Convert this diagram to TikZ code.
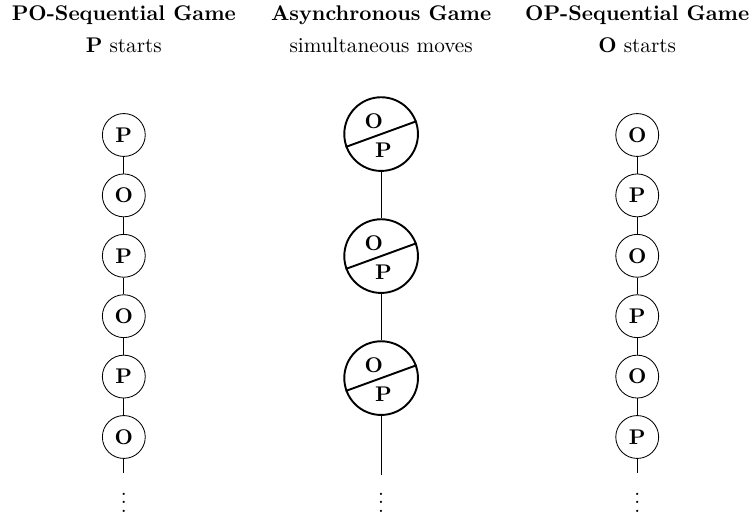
\documentclass[tikz,border=0pt]{standalone}
\begin{document}
\begin{tikzpicture}[
    move/.style={circle,draw,minimum size=0.71cm,inner sep=0pt,font=\bfseries},
    bigmove/.style={circle,draw,line width=0.9pt,minimum size=1.22cm,inner sep=0pt},
    title/.style={font=\bfseries}
  ]
  \useasboundingbox (0,0) rectangle (12.5,-8.63);
  % headings
  \node[title] (t1) at (2.05,-0.25) {PO-Sequential Game};
  \node (s1) at (2.05,-0.75) {\textbf{P} starts};
  \node[title] (t2) at (6.31,-0.25) {Asynchronous Game};
  \node (s2) at (6.31,-0.75) {simultaneous moves};
  \node[title] (t3) at (10.55,-0.25) {OP-Sequential Game};
  \node (s3) at (10.55,-0.75) {\textbf{O} starts};
  % PO-sequential
  \node[move] (a0) at (2.05,-2.235) {P};
  \node[move] (a1) at (2.05,-3.235) {O};
  \node[move] (a2) at (2.05,-4.235) {P};
  \node[move] (a3) at (2.05,-5.235) {O};
  \node[move] (a4) at (2.05,-6.235) {P};
  \node[move] (a5) at (2.05,-7.235) {O};
  \coordinate (ae) at (2.05,-7.83);
  \node (ad) at (2.05,-8.22) {$\vdots$};
  % OP-sequential
  \node[move] (c0) at (10.55,-2.235) {O};
  \node[move] (c1) at (10.55,-3.235) {P};
  \node[move] (c2) at (10.55,-4.235) {O};
  \node[move] (c3) at (10.55,-5.235) {P};
  \node[move] (c4) at (10.55,-6.235) {O};
  \node[move] (c5) at (10.55,-7.235) {P};
  \coordinate (ce) at (10.55,-7.83);
  \node (cd) at (10.55,-8.22) {$\vdots$};
  % asynchronous
  \node[bigmove] (b0) at (6.31,-2.22) {};
  \node[bigmove] (b1) at (6.31,-4.24) {};
  \node[bigmove] (b2) at (6.31,-6.26) {};
  \coordinate (be) at (6.31,-7.86);
  \node (bd) at (6.31,-8.22) {$\vdots$};
  \foreach \b in {b0,b1,b2} {
    \draw[line width=0.9pt] (\b.200) -- (\b.20);
    \node[font=\bfseries] at ([shift={(-0.12,0.21)}]\b.center) {O};
    \node[font=\bfseries] at ([shift={(0.04,-0.26)}]\b.center) {P};
  }
  \begin{scope}[-]
    \draw (a0) to (a1);
    \draw (a1) to (a2);
    \draw (a2) to (a3);
    \draw (a3) to (a4);
    \draw (a4) to (a5);
    \draw (a5) to (ae);
    \draw (c0) to (c1);
    \draw (c1) to (c2);
    \draw (c2) to (c3);
    \draw (c3) to (c4);
    \draw (c4) to (c5);
    \draw (c5) to (ce);
    \draw (b0) to (b1);
    \draw (b1) to (b2);
    \draw (b2) to (be);
  \end{scope}
\end{tikzpicture}
\end{document}
